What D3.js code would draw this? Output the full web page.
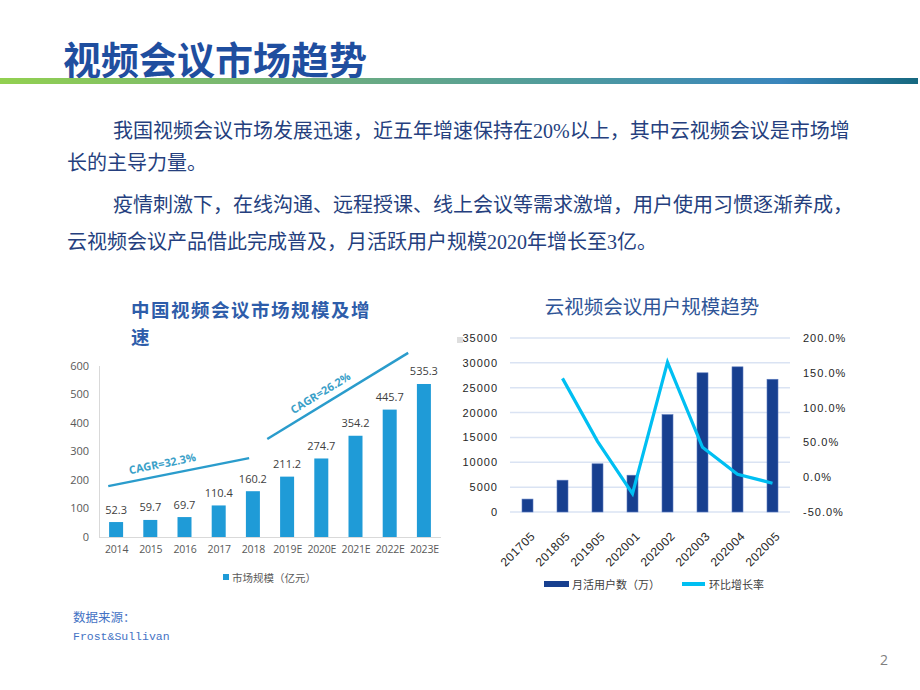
<!DOCTYPE html>
<html>
<head>
<meta charset="utf-8">
<script src="https://cdn.jsdelivr.net/npm/d3@7/dist/d3.min.js"></script>
<style>
  html, body { margin: 0; padding: 0; background: #fff; }
  svg { display: block; }
</style>
</head>
<body>
<svg id="slide" width="920" height="690"></svg>
<script>
// ---------------- DATA ----------------
const pageTitle = "视频会议市场趋势";
const paragraphLines = [
  { text: "我国视频会议市场发展迅速，近五年增速保持在20%以上，其中云视频会议是市场增", indent: true },
  { text: "长的主导力量。", indent: false },
  { text: "疫情刺激下，在线沟通、远程授课、线上会议等需求激增，用户使用习惯逐渐养成，", indent: true },
  { text: "云视频会议产品借此完成普及，月活跃用户规模2020年增长至3亿。", indent: false }
];

// Left chart: market size
const leftTitleLines = ["中国视频会议市场规模及增", "速"];
const years = ["2014", "2015", "2016", "2017", "2018", "2019E", "2020E", "2021E", "2022E", "2023E"];
const marketSize = [52.3, 59.7, 69.7, 110.4, 160.2, 211.2, 274.7, 354.2, 445.7, 535.3];
const leftTicks = [0, 100, 200, 300, 400, 500, 600];
const leftLegend = "市场规模（亿元）";
// CAGR annotations: positions in category-index units and value units
const cagrNotes = [
  { label: "CAGR=32.3%", i0: -0.23, v0: 178, i1: 3.89, v1: 276, t: 0.40 },
  { label: "CAGR=26.2%", i0: 4.42, v0: 343, i1: 8.54, v1: 644, t: 0.42 }
];

// Right chart: cloud video users
const rightTitle = "云视频会议用户规模趋势";
const months = ["201705", "201805", "201905", "202001", "202002", "202003", "202004", "202005"];
const monthlyUsers = [2600, 6400, 9700, 7400, 19600, 28000, 29200, 26700];
const growthRate = [null, 142, 51.5, -23.7, 165, 42.9, 4.3, -8.6];
const rightLeftTicks = [0, 5000, 10000, 15000, 20000, 25000, 30000, 35000];
const rightRightTicks = [-50, 0, 50, 100, 150, 200];
const rightLegend = ["月活用户数（万）", "环比增长率"];

const sourceLines = ["数据来源：", "Frost&Sullivan"];
const pageNumber = "2";

// ---------------- DRAW ----------------
const svg = d3.select("#slide");
const CJK = "'Noto Sans CJK SC', 'Noto Sans', sans-serif";

// header
const defs = svg.append("defs");
const grad = defs.append("linearGradient").attr("id", "hdrGrad").attr("x1", "0%").attr("x2", "100%");
[["0%", "#92d050"], ["35%", "#6fae7e"], ["62%", "#4e9a9e"], ["85%", "#3a86bd"], ["100%", "#16687f"]]
  .forEach(([o, c]) => grad.append("stop").attr("offset", o).attr("stop-color", c));

svg.append("text").attr("x", 63).attr("y", 57).attr("dominant-baseline", "central")
  .attr("font-family", CJK).attr("font-weight", "bold").attr("font-size", 38)
  .attr("fill", "#1f4e9f").text(pageTitle);
svg.append("rect").attr("x", 0).attr("y", 78).attr("width", 918).attr("height", 6)
  .attr("fill", "url(#hdrGrad)");

// paragraph
const paraY = [131, 163, 205, 242];
svg.append("g").selectAll("text").data(paragraphLines).join("text")
  .attr("x", d => d.indent ? 113 : 67)
  .attr("y", (d, i) => paraY[i])
  .attr("dominant-baseline", "central")
  .attr("font-family", "'Liberation Serif', " + CJK)
  .attr("font-size", 20).attr("fill", "#253f7e")
  .text(d => d.text);

// ---------- Left chart ----------
const gL = svg.append("g");
gL.selectAll("text.ttl").data(leftTitleLines).join("text").attr("class", "ttl")
  .attr("x", 131).attr("y", (d, i) => 309 + i * 27).attr("dominant-baseline", "central")
  .attr("font-family", CJK).attr("font-weight", "bold").attr("font-size", 18.5)
  .attr("letter-spacing", 1.5)
  .attr("fill", "#2e5daa").text(d => d);

const xL = d3.scalePoint().domain(years).range([99, 441]).padding(0.5);
const idxL = d3.scaleLinear().domain([0, years.length - 1]).range([xL(years[0]), xL(years[years.length - 1])]);
const yL = d3.scaleLinear().domain([0, 600]).range([537, 365.5]);
const barColorL = "#1f9bd7";
const fontL = "'Open Sans', 'Noto Sans', sans-serif";

// y axis
const yAxisL = d3.axisLeft(yL).tickValues(leftTicks).tickSize(0).tickPadding(10);
const gYL = gL.append("g").attr("transform", "translate(99,0)").call(yAxisL);
gYL.select(".domain").attr("stroke", "#d9d9d9");
gYL.selectAll("text").attr("font-family", fontL).attr("font-size", 11).attr("fill", "#595959");
// x axis
const xAxisL = d3.axisBottom(xL).tickSize(0).tickPadding(9);
const gXL = gL.append("g").attr("transform", "translate(0,537)").call(xAxisL);
gXL.select(".domain").attr("stroke", "#d9d9d9").attr("d", "M99,0.5H441");
gXL.selectAll("text").attr("font-family", fontL).attr("font-size", 10.5).attr("letter-spacing", -0.2).attr("fill", "#595959");

gL.selectAll("rect.bar").data(years).join("rect").attr("class", "bar")
  .attr("x", d => xL(d) - 7).attr("width", 14)
  .attr("y", (d, i) => yL(marketSize[i])).attr("height", (d, i) => yL(0) - yL(marketSize[i]))
  .attr("fill", barColorL);
gL.selectAll("text.val").data(years).join("text").attr("class", "val")
  .attr("x", d => xL(d)).attr("y", (d, i) => yL(marketSize[i]) - 13)
  .attr("text-anchor", "middle").attr("dominant-baseline", "central")
  .attr("font-family", fontL).attr("font-size", 11).attr("fill", "#404040")
  .text((d, i) => marketSize[i]);

// CAGR annotations
cagrNotes.forEach(n => {
  const x0 = idxL(n.i0), y0 = yL(n.v0), x1 = idxL(n.i1), y1 = yL(n.v1);
  gL.append("line").attr("x1", x0).attr("y1", y0).attr("x2", x1).attr("y2", y1)
    .attr("stroke", "#2a9ccc").attr("stroke-width", 2.5);
  const ang = Math.atan2(y1 - y0, x1 - x0);
  const tx = x0 + (x1 - x0) * n.t + 12 * Math.sin(ang);
  const ty = y0 + (y1 - y0) * n.t - 12 * Math.cos(ang);
  gL.append("text").attr("transform", `translate(${tx},${ty}) rotate(${ang * 180 / Math.PI})`)
    .attr("text-anchor", "middle").attr("dominant-baseline", "central")
    .attr("font-family", fontL).attr("font-weight", "bold").attr("font-size", 11)
    .attr("fill", "#3aa0c8").text(n.label);
});

// legend
gL.append("rect").attr("x", 223).attr("y", 574).attr("width", 6).attr("height", 6).attr("fill", barColorL);
gL.append("text").attr("x", 232).attr("y", 577).attr("dominant-baseline", "central")
  .attr("font-family", CJK).attr("font-size", 10.5).attr("fill", "#595959").text(leftLegend);

// ---------- Right chart ----------
const gR = svg.append("g");
const fontR = "'Liberation Sans', Arial, sans-serif";
gR.append("text").attr("x", 652).attr("y", 305).attr("text-anchor", "middle").attr("dominant-baseline", "central")
  .attr("font-family", CJK).attr("font-size", 19.5).attr("fill", "#2f5597").text(rightTitle);

const xR = d3.scaleBand().domain(months).range([510, 790]);
const yR = d3.scaleLinear().domain([0, 35000]).range([512, 338]);
const yR2 = d3.scaleLinear().domain([-50, 200]).range([512, 338]);

// gridlines
gR.selectAll("line.grid").data(rightLeftTicks).join("line").attr("class", "grid")
  .attr("x1", 510).attr("x2", 790).attr("y1", d => yR(d)).attr("y2", d => yR(d))
  .attr("stroke", "#dae3f3").attr("stroke-width", 1.5);

const gYR = gR.append("g").attr("transform", "translate(510,0)")
  .call(d3.axisLeft(yR).tickValues(rightLeftTicks).tickSize(0).tickPadding(12).tickFormat(d3.format("d")));
gYR.select(".domain").remove();
gYR.selectAll("text").attr("font-family", fontR).attr("font-size", 11).attr("letter-spacing", 1).attr("fill", "#262626");

const gYR2 = gR.append("g").attr("transform", "translate(790,0)")
  .call(d3.axisRight(yR2).tickValues(rightRightTicks).tickSize(0).tickPadding(13).tickFormat(d => d.toFixed(1) + "%"));
gYR2.select(".domain").remove();
gYR2.selectAll("text").attr("font-family", fontR).attr("font-size", 11).attr("letter-spacing", 1).attr("fill", "#262626");

// x labels rotated
const gXR = gR.append("g").attr("transform", "translate(0,512)")
  .call(d3.axisBottom(xR).tickSize(0).tickPadding(0));
gXR.select(".domain").remove();
gXR.selectAll("text")
  .attr("font-family", fontR).attr("font-size", 12).attr("letter-spacing", 0.5).attr("fill", "#262626")
  .attr("text-anchor", "end").attr("dy", 0).attr("y", 0)
  .attr("dominant-baseline", "central")
  .attr("transform", "translate(5.5,22) rotate(-45)");

// bars
const barColorR = "#173f8f";
gR.selectAll("rect.bar").data(months).join("rect").attr("class", "bar")
  .attr("x", d => xR(d) + xR.bandwidth() / 2 - 5.5).attr("width", 11)
  .attr("y", (d, i) => yR(monthlyUsers[i])).attr("height", (d, i) => yR(0) - yR(monthlyUsers[i]))
  .attr("fill", barColorR).attr("stroke", "#5b7bbf").attr("stroke-width", 0.6);

// growth line
const lineGen = d3.line()
  .defined(d => d.v != null)
  .x(d => xR(d.m) + xR.bandwidth() / 2)
  .y(d => yR2(d.v));
gR.append("path").datum(months.map((m, i) => ({ m, v: growthRate[i] })))
  .attr("d", lineGen).attr("fill", "none").attr("stroke", "#00bff2").attr("stroke-width", 3.2);

// small artifact square
gR.append("rect").attr("x", 457).attr("y", 337).attr("width", 6).attr("height", 6).attr("fill", "#dedede");

// legend
gR.append("rect").attr("x", 544).attr("y", 581).attr("width", 25).attr("height", 6).attr("fill", barColorR);
gR.append("text").attr("x", 572).attr("y", 584).attr("dominant-baseline", "central")
  .attr("font-family", CJK).attr("font-size", 11).attr("fill", "#404040").text(rightLegend[0]);
gR.append("line").attr("x1", 682).attr("x2", 705).attr("y1", 584).attr("y2", 584)
  .attr("stroke", "#00bff2").attr("stroke-width", 4);
gR.append("text").attr("x", 709).attr("y", 584).attr("dominant-baseline", "central")
  .attr("font-family", CJK).attr("font-size", 11).attr("fill", "#404040").text(rightLegend[1]);

// source
svg.append("text").attr("x", 73).attr("y", 618).attr("dominant-baseline", "central")
  .attr("font-family", "'Liberation Serif', " + CJK).attr("font-size", 12.5).attr("fill", "#4472c4").text(sourceLines[0]);
svg.append("text").attr("x", 73).attr("y", 636).attr("dominant-baseline", "central")
  .attr("font-family", "'Liberation Mono', monospace").attr("font-size", 11.5).attr("fill", "#4472c4").text(sourceLines[1]);

// page number
svg.append("text").attr("x", 884).attr("y", 659).attr("text-anchor", "middle").attr("dominant-baseline", "central")
  .attr("font-family", fontL).attr("font-size", 14).attr("fill", "#7f7f7f").text(pageNumber);
</script>
</body>
</html>
